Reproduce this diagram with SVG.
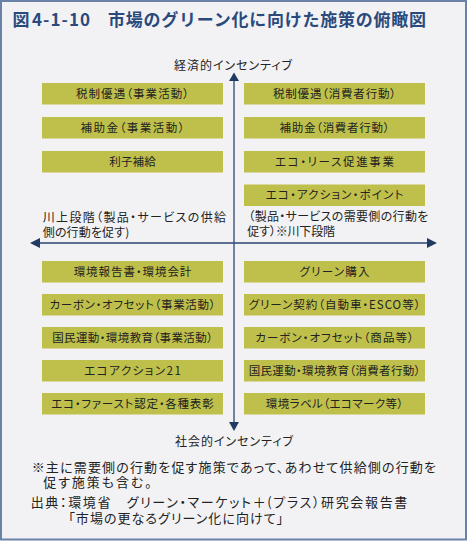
<svg xmlns="http://www.w3.org/2000/svg" width="469" height="542" viewBox="0 0 469 542">
<style>
text{font-family:"Noto Sans CJK JP","Noto Sans",sans-serif;fill:#222;font-feature-settings:"palt"}
.box rect{fill:#bfc04b}
.box text{font-size:11.5px;text-anchor:middle}
.ax{font-size:12px}
.fn{font-size:13px}
.title{font-size:17px;font-weight:bold;fill:#2b4a7c;font-feature-settings:normal}
</style>
<rect x="1" y="1" width="465" height="538.5" fill="#f2f2f5" stroke="#6a82a8" stroke-width="2"/>
<text class="title" y="26"><tspan x="12.5">図</tspan><tspan x="32" textLength="58" lengthAdjust="spacing">4-1-10</tspan><tspan x="108" textLength="318" lengthAdjust="spacing">市場のグリーン化に向けた施策の俯瞰図</tspan></text>
<g id="connectors" stroke="#2b4570" stroke-width="1.3" fill="none">
<line x1="234" y1="80" x2="234" y2="423"/>
<line x1="39" y1="243" x2="428" y2="243"/>
<polygon points="234,72.5 229,81 239,81" fill="#1f3a63" stroke="none"/>
<polygon points="234,431 229,422 239,422" fill="#1f3a63" stroke="none"/>
<polygon points="30,243 40,238 40,248" fill="#1f3a63" stroke="none"/>
<polygon points="437,243 427,238 427,248" fill="#1f3a63" stroke="none"/>
</g>
<g id="axis-labels">
<text class="ax" x="174" y="69.5" textLength="118" lengthAdjust="spacing">経済的インセンティブ</text>
<text class="ax" x="175" y="446" textLength="118" lengthAdjust="spacing">社会的インセンティブ</text>
<text class="ax" x="42.7" y="222" textLength="183.3" lengthAdjust="spacing">川上段階（製品・サービスの供給</text>
<text class="ax" x="42.7" y="237" textLength="86.6" lengthAdjust="spacing">側の行動を促す)</text>
<text class="ax" x="248.3" y="221" textLength="180" lengthAdjust="spacing">（製品・サービスの需要側の行動を</text>
<text class="ax" x="247.3" y="236" textLength="87.7" lengthAdjust="spacing">促す）※川下段階</text>
</g>
<g id="n1" class="box"><rect x="42" y="83" width="181" height="21.5"/><text x="132.5" y="97.8" textLength="113" lengthAdjust="spacing">税制優遇（事業活動）</text></g>
<g id="n2" class="box"><rect x="42" y="117" width="181" height="21.5"/><text x="132.5" y="131.8" textLength="104" lengthAdjust="spacing">補助金（事業活動）</text></g>
<g id="n3" class="box"><rect x="42" y="151" width="181" height="21.5"/><text x="132.5" y="165.8" textLength="46.4" lengthAdjust="spacing">利子補給</text></g>
<g id="n4" class="box"><rect x="244" y="83" width="181" height="21.5"/><text x="334.5" y="97.8" textLength="123" lengthAdjust="spacing">税制優遇（消費者行動）</text></g>
<g id="n5" class="box"><rect x="244" y="117" width="181" height="21.5"/><text x="334.5" y="131.8" textLength="110" lengthAdjust="spacing">補助金（消費者行動）</text></g>
<g id="n6" class="box"><rect x="244" y="151" width="181" height="21.5"/><text x="334.5" y="165.8" textLength="119" lengthAdjust="spacing">エコ・リース促進事業</text></g>
<g id="n7" class="box"><rect x="244" y="184.5" width="181" height="21.5"/><text x="334.5" y="199.3" textLength="137.6" lengthAdjust="spacing">エコ・アクション・ポイント</text></g>
<g id="n8" class="box"><rect x="42" y="261" width="181" height="21.5"/><text x="132.5" y="275.8" textLength="117.7" lengthAdjust="spacing">環境報告書・環境会計</text></g>
<g id="n9" class="box"><rect x="42" y="294" width="181" height="21.5"/><text x="132.5" y="308.8" textLength="166" lengthAdjust="spacing">カーボン・オフセット（事業活動）</text></g>
<g id="n10" class="box"><rect x="42" y="327" width="181" height="21.5"/><text x="132.5" y="341.8" textLength="160.6" lengthAdjust="spacing">国民運動・環境教育（事業活動）</text></g>
<g id="n11" class="box"><rect x="42" y="360" width="181" height="21.5"/><text x="132.5" y="374.8" textLength="96.7" lengthAdjust="spacing">エコアクション21</text></g>
<g id="n12" class="box"><rect x="42" y="393" width="181" height="21.5"/><text x="132.5" y="407.8" textLength="162.3" lengthAdjust="spacing">エコ・ファースト認定・各種表彰</text></g>
<g id="n13" class="box"><rect x="244" y="261" width="181" height="21.5"/><text x="334.5" y="275.8" textLength="70" lengthAdjust="spacing">グリーン購入</text></g>
<g id="n14" class="box"><rect x="244" y="294" width="181" height="21.5"/><text x="334.5" y="308.8" textLength="171.7" lengthAdjust="spacing">グリーン契約（自動車・ESCO等）</text></g>
<g id="n15" class="box"><rect x="244" y="327" width="181" height="21.5"/><text x="334.5" y="341.8" textLength="158.3" lengthAdjust="spacing">カーボン・オフセット（商品等）</text></g>
<g id="n16" class="box"><rect x="244" y="360" width="181" height="21.5"/><text x="334.5" y="374.8" textLength="171.7" lengthAdjust="spacing">国民運動・環境教育（消費者行動）</text></g>
<g id="n17" class="box"><rect x="244" y="393" width="181" height="21.5"/><text x="334.5" y="407.8" textLength="137.3" lengthAdjust="spacing">環境ラベル（エコマーク等）</text></g>
<g id="notes">
<text class="fn" x="31.7" y="471.7" textLength="404.3" lengthAdjust="spacing">※主に需要側の行動を促す施策であって、あわせて供給側の行動を</text>
<text class="fn" x="43.3" y="486.7" textLength="108.3" lengthAdjust="spacing">促す施策も含む。</text>
<text class="fn" x="30.7" y="506.7" textLength="376.6" lengthAdjust="spacing">出典：環境省　グリーン・マーケット＋(プラス）研究会報告書</text>
<text class="fn" x="68.3" y="523" textLength="215" lengthAdjust="spacing">「市場の更なるグリーン化に向けて」</text>
</g>
</svg>
